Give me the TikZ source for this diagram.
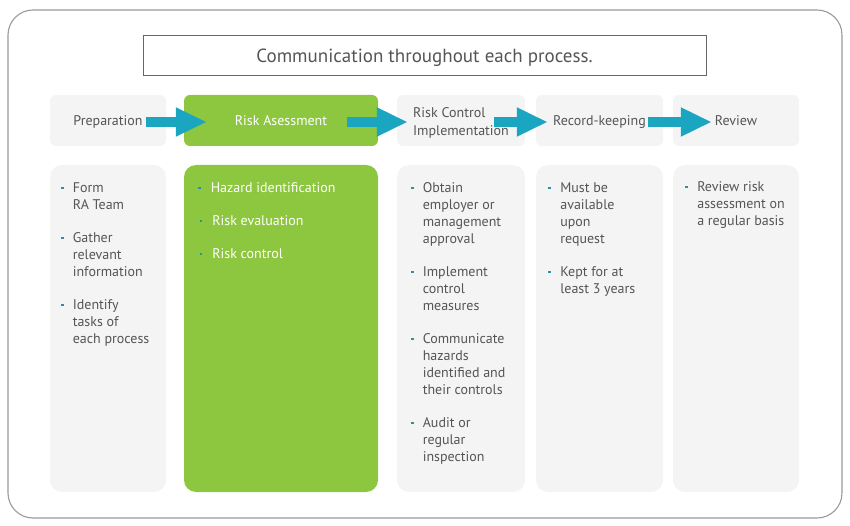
\documentclass[tikz,border=0pt]{standalone}
\usepackage{fontspec}
\setmainfont{PT Sans}
\usetikzlibrary{arrows.meta,calc}
\definecolor{rgreen}{HTML}{8DC63F}
\definecolor{rgray}{HTML}{F4F4F5}
\definecolor{rteal}{HTML}{1AA6C0}
\definecolor{rtext}{HTML}{545557}
\definecolor{rframe}{HTML}{9A9A9A}
\definecolor{rdot}{HTML}{2E8FA0}
\newcommand{\bdot}{\textcolor{rdot}{\rule[3.8pt]{2.6pt}{2.6pt}}}
\begin{document}
\begin{tikzpicture}[x=1pt,y=-1pt,
  hbox/.style={fill=rgray, rounded corners=6pt, draw=none, minimum height=51pt, inner sep=0pt,
    text=rtext, font=\fontsize{14}{18}\selectfont, align=left, text depth=0pt},
  gbox/.style={hbox, fill=rgreen, text=white},
  bbox/.style={fill=rgray, rounded corners=12pt, draw=none, minimum height=327pt, inner sep=0pt},
  gbody/.style={bbox, fill=rgreen},
  btext/.style={anchor=base west, inner sep=0pt, text=rtext, font=\fontsize{14}{17}\selectfont},
  flow/.style={draw=rteal, line width=10pt, -{Triangle[length=31pt,width=27pt]}}]
\useasboundingbox (0,0) rectangle (850,526);
% outer frame
\draw[rframe, line width=1.1pt, rounded corners=25pt] (8,10) rectangle (842,518);
% title
\node[draw=black!60, line width=0.6pt, minimum width=563pt, minimum height=40pt, inner sep=0pt,
  text depth=0pt, text=rtext, font=\fontsize{19}{20}\selectfont] (title) at (424.5,55.5) {Communication throughout each process.};
% header boxes
\node[hbox, minimum width=116pt] (prep) at (108,120.5) {Preparation};
\node[gbox, minimum width=194pt] (ra) at (281,120.5) {Risk Asessment};
\node[hbox, minimum width=128pt] (rc) at (461,120.5) {};
\node[inner sep=0pt, text=rtext, font=\fontsize{14}{18}\selectfont, align=left] (rcl) at (461,123) {Risk Control\\Implementation};
\node[hbox, minimum width=127pt] (rec) at (599.5,120.5) {Record-keeping};
\node[hbox, minimum width=126pt] (rev) at (736,120.5) {Review};
% body boxes
\node[bbox, minimum width=116pt] (prepb) at (108,328.5) {};
\node[gbody, minimum width=194pt] (rab) at (281,328.5) {};
\node[bbox, minimum width=128pt] (rcb) at (461,328.5) {};
\node[bbox, minimum width=127pt] (recb) at (599.5,328.5) {};
\node[bbox, minimum width=126pt] (revb) at (736,328.5) {};
% arrows
\draw[flow] ($(prep.east)+(-20,1.5)$) -- ($(ra.west)+(23,1.5)$);
\draw[flow] ($(ra.east)+(-31,1.5)$) -- ($(rc.west)+(11,1.5)$);
\draw[flow] ($(rc.east)+(-31,1.5)$) -- ($(rec.west)+(12,1.5)$);
\draw[flow] ($(rec.east)+(-15,1.5)$) -- ($(rev.west)+(39,1.5)$);
% body texts
\node[btext] (prept) at (61,193) {\begin{tabular}[t]{@{}l@{\hspace{9pt}}l@{}}
\bdot & Form\\
 & RA Team\\[16pt]
\bdot & Gather\\
 & relevant\\
 & information\\[16pt]
\bdot & Identify\\
 & tasks of\\
 & each process
\end{tabular}};
\node[btext, text=white] (rat) at (198,193) {\begin{tabular}[t]{@{}l@{\hspace{8.5pt}}l@{}}
\bdot & Hazard identification\\[16pt]
\hspace{1.5pt}\bdot & \hspace{1.5pt}Risk evaluation\\[16pt]
\hspace{1.5pt}\bdot & \hspace{1.5pt}Risk control
\end{tabular}};
\node[btext] (rct) at (411,193) {\begin{tabular}[t]{@{}l@{\hspace{9pt}}l@{}}
\bdot & Obtain\\
 & employer or\\
 & management\\
 & approval\\[16pt]
\bdot & Implement\\
 & control\\
 & measures\\[16pt]
\bdot & Communicate\\
 & hazards\\
 & identified and\\
 & their controls\\[16pt]
\bdot & Audit or\\
 & regular\\
 & inspection
\end{tabular}};
\node[btext] (rect) at (548,193) {\begin{tabular}[t]{@{}l@{\hspace{9.5pt}}l@{}}
\bdot & Must be\\
 & available\\
 & upon\\
 & request\\[16pt]
\bdot & Kept for at\\
 & least 3 years
\end{tabular}};
\node[btext] (revt) at (685,192) {\begin{tabular}[t]{@{}l@{\hspace{9.5pt}}l@{}}
\bdot & Review risk\\
 & assessment on\\
 & a regular basis
\end{tabular}};
\end{tikzpicture}
\end{document}
